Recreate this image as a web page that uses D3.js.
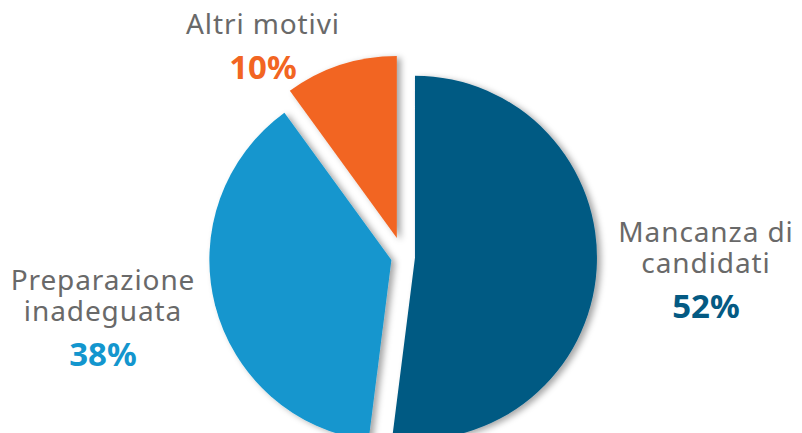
<!DOCTYPE html>
<html>
<head>
<meta charset="utf-8">
<script src="https://cdn.jsdelivr.net/npm/d3@7"></script>
<style>
  html, body { margin: 0; padding: 0; background: #ffffff; }
  svg { display: block; }
</style>
</head>
<body>
<div id="chart"></div>
<script>
// Data
const categories = ["Mancanza di candidati", "Preparazione inadeguata", "Altri motivi"];
const labelLines = [["Mancanza di", "candidati"], ["Preparazione", "inadeguata"], ["Altri motivi"]];
const values = [52, 38, 10];
const colors = ["#045a83", "#1396ce", "#f26522"];

const width = 802, height = 433;
const cx = 403, cy = 257, radius = 182;
// explode distance for each slice
const explode = [12, 12, 20];

const svg = d3.select("#chart").append("svg")
    .attr("width", width)
    .attr("height", height);

// soft shadow like the original
const defs = svg.append("defs");
const filter = defs.append("filter")
    .attr("id", "shadow")
    .attr("x", "-20%").attr("y", "-20%")
    .attr("width", "140%").attr("height", "140%");
filter.append("feDropShadow")
    .attr("dx", 4).attr("dy", 2)
    .attr("stdDeviation", 3)
    .attr("flood-color", "#000")
    .attr("flood-opacity", 0.35);

const pie = d3.pie().sort(null).value(d => d)(values);
const arc = d3.arc().innerRadius(0).outerRadius(radius);

const g = svg.append("g").attr("transform", `translate(${cx},${cy})`);

g.selectAll("path")
    .data(pie)
    .join("path")
    .attr("d", arc)
    .attr("fill", (d, i) => colors[i])
    .attr("filter", "url(#shadow)")
    .attr("transform", (d, i) => {
        const mid = (d.startAngle + d.endAngle) / 2;
        return `translate(${Math.sin(mid) * explode[i]},${-Math.cos(mid) * explode[i]})`;
    });

// Label layout: center x, first baseline
const labelPos = [
    { x: 706, y: 242 },
    { x: 103, y: 290 },
    { x: 263, y: 34 }
];
const lineGap = 31;

labelLines.forEach((lines, i) => {
    const t = svg.append("g").attr("class", "label");
    lines.forEach((ln, j) => {
        t.append("text")
            .attr("x", labelPos[i].x)
            .attr("y", labelPos[i].y + j * lineGap)
            .attr("text-anchor", "middle")
            .attr("font-family", "'Noto Sans', sans-serif")
            .attr("font-size", 28)
            .attr("letter-spacing", 0.9)
            .attr("fill", "#696969")
            .text(ln);
    });
    t.append("text")
        .attr("x", labelPos[i].x)
        .attr("y", labelPos[i].y + (lines.length - 1) * lineGap + 45)
        .attr("text-anchor", "middle")
        .attr("font-family", "'Noto Sans', sans-serif")
        .attr("font-weight", "bold")
        .attr("font-size", 33)
        .attr("fill", colors[i])
        .text(values[i] + "%");
});
</script>
</body>
</html>
